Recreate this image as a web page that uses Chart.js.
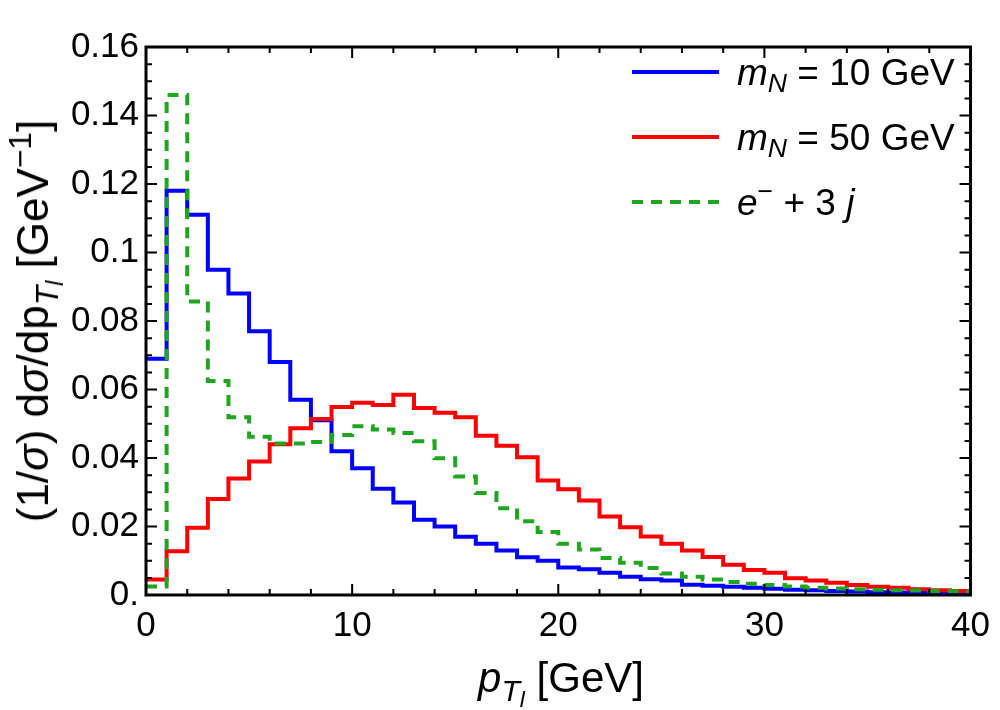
<!DOCTYPE html>
<html>
<head>
<meta charset="utf-8">
<script src="https://cdn.jsdelivr.net/npm/chart.js@4.4.1/dist/chart.umd.min.js"></script>
<style>
  html, body { margin: 0; padding: 0; background: #fff; }
  #wrap { position: relative; width: 1000px; height: 710px; font-family: "Liberation Sans", Arial, sans-serif; color: #000; }
  #chart { position: absolute; left: 0; top: 0; }
  .lbl { position: absolute; white-space: nowrap; line-height: 1; }
  .lbl sub, .lbl sup { font-size: 0.72em; line-height: 0; position: relative; vertical-align: baseline; }
  .lbl sub { top: 0.3em; }
  .lbl sup { top: -0.55em; }
  .lbl sub sub { top: 0.25em; font-size: 0.75em; }
  #ytitle { font-size: 44px; left: 33px; top: 321px; transform: translate(-50%, -50%) rotate(-90deg); }
  #xtitle { font-size: 42px; left: 561px; top: 678px; transform: translate(-50%, -50%); }
  .leg { position: absolute; left: 632px; height: 44px; display: flex; align-items: center; }
  .leg .sw { width: 87px; height: 4px; margin-right: 18px; }
  .leg .tx { font-size: 37px; line-height: 1; white-space: nowrap; }
  .leg .tx sub { font-size: 0.72em; line-height: 0; position: relative; top: 0.3em; vertical-align: baseline; }
  .leg .tx sup { font-size: 0.72em; line-height: 0; position: relative; top: -0.55em; vertical-align: baseline; }
</style>
</head>
<body>
<div id="wrap">
  <canvas id="chart" width="1000" height="710"></canvas>
  <div id="ytitle" class="lbl">(1/<i>σ</i>) d<i>σ</i>/dp<sub><i>T</i><sub><i>l</i></sub></sub> [GeV<sup>−1</sup>]</div>
  <div id="xtitle" class="lbl"><i>p</i><sub><i>T</i><sub><i>l</i></sub></sub> [GeV]</div>
  <div id="legend"></div>
</div>
<script>
  // bin left edges (GeV), each bin is 1 GeV wide
  const binStart = [0, 1, 2, 3, 4, 5, 6, 7, 8, 9, 10, 11, 12, 13, 14, 15, 16, 17, 18, 19,
    20, 21, 22, 23, 24, 25, 26, 27, 28, 29, 30, 31, 32, 33, 34, 35, 36, 37, 38, 39];
  const binEnd = 40;

  const mN10 = [0.069, 0.118, 0.111, 0.095, 0.088, 0.077, 0.068, 0.057, 0.051, 0.042,
    0.037, 0.031, 0.027, 0.022, 0.020, 0.017, 0.015, 0.013, 0.011, 0.010,
    0.008, 0.0075, 0.0065, 0.0053, 0.0046, 0.0042, 0.0030, 0.0027, 0.0024, 0.0021,
    0.0018, 0.0015, 0.0014, 0.0012, 0.0010, 0.0008, 0.0007, 0.0006, 0.0005, 0.0004];

  const mN50 = [0.0045, 0.0128, 0.0196, 0.028, 0.034, 0.039, 0.044, 0.0487, 0.0514, 0.0549,
    0.0561, 0.0555, 0.0585, 0.0546, 0.0532, 0.0519, 0.0465, 0.0436, 0.0402, 0.0334,
    0.0309, 0.0276, 0.0229, 0.0198, 0.0171, 0.0150, 0.0130, 0.0111, 0.0088, 0.0073,
    0.0065, 0.0049, 0.0042, 0.0036, 0.0029, 0.0024, 0.0021, 0.0017, 0.0014, 0.0012];

  const bkg3j = [0.0025, 0.146, 0.0857, 0.0625, 0.0519, 0.0462, 0.0442, 0.0442, 0.0447, 0.0467,
    0.0493, 0.0483, 0.0473, 0.0449, 0.0399, 0.0346, 0.0298, 0.0253, 0.0215, 0.0184,
    0.0150, 0.0133, 0.0108, 0.0094, 0.0079, 0.0063, 0.0053, 0.0045, 0.0038, 0.0033,
    0.0029, 0.0025, 0.0021, 0.0019, 0.0017, 0.0015, 0.0014, 0.0013, 0.0012, 0.0011];

  const xTickLabels = ["0", "10", "20", "30", "40"];
  const yTickLabels = ["0.", "0.02", "0.04", "0.06", "0.08", "0.1", "0.12", "0.14", "0.16"];

  const SERIES = [
    { label: "m_N = 10 GeV", html: "<i>m</i><sub><i>N</i></sub> = 10 GeV", values: mN10, color: "#0000ff", dash: [], order: 3 },
    { label: "m_N = 50 GeV", html: "<i>m</i><sub><i>N</i></sub> = 50 GeV", values: mN50, color: "#ff0000", dash: [], order: 2 },
    { label: "e- + 3 j", html: "<i>e</i><sup>−</sup> + 3 <i>j</i>", values: bkg3j, color: "#1fa51f", dash: [11, 8], order: 1 },
  ];

  // step histogram: a point at each left edge, plus the closing edge
  function histPoints(values) {
    const pts = binStart.map((x, i) => ({ x: x, y: values[i] }));
    pts.push({ x: binEnd, y: values[values.length - 1] });
    return pts;
  }

  const frameTicks = {
    id: "frameTicks",
    afterDraw(chart) {
      const { ctx, chartArea: a, scales } = chart;
      const xs = scales.x, ys = scales.y;
      ctx.save();
      ctx.strokeStyle = "#000";
      ctx.lineWidth = 2;
      ctx.beginPath();
      for (let v = 0; v <= 40; v += 2) {
        const px = xs.getPixelForValue(v);
        const len = v % 10 === 0 ? 11 : 6;
        ctx.moveTo(px, a.bottom); ctx.lineTo(px, a.bottom - len);
        ctx.moveTo(px, a.top); ctx.lineTo(px, a.top + len);
      }
      for (let k = 0; k <= 32; k++) {
        const py = ys.getPixelForValue(k * 0.005);
        const len = k % 4 === 0 ? 11 : 6;
        ctx.moveTo(a.left, py); ctx.lineTo(a.left + len, py);
        ctx.moveTo(a.right, py); ctx.lineTo(a.right - len, py);
      }
      ctx.stroke();
      ctx.lineWidth = 3;
      ctx.strokeRect(a.left, a.top, a.right - a.left, a.bottom - a.top);
      ctx.restore();
    },
  };

  const tickFont = { family: "'Liberation Sans', Arial, sans-serif", size: 35 };

  new Chart(document.getElementById("chart"), {
    type: "line",
    data: {
      datasets: SERIES.map((s) => ({
        label: s.label,
        data: histPoints(s.values),
        borderColor: s.color,
        backgroundColor: s.color,
        borderWidth: 4,
        borderDash: s.dash,
        stepped: "before",
        pointRadius: 0,
        fill: false,
        order: s.order,
      })),
    },
    options: {
      responsive: false,
      animation: false,
      devicePixelRatio: 1,
      layout: { padding: { top: 47, right: 22, left: 0, bottom: 0 } },
      plugins: { legend: { display: false }, tooltip: { enabled: false } },
      scales: {
        x: {
          type: "linear",
          min: 0,
          max: 40,
          grid: { display: false, drawTicks: false },
          border: { display: false },
          ticks: {
            stepSize: 10,
            padding: 10,
            color: "#000",
            font: tickFont,
            maxRotation: 0,
            callback: (v, i) => xTickLabels[i],
          },
          afterFit(scale) { scale.height = 115; },
        },
        y: {
          min: 0,
          max: 0.16,
          grid: { display: false, drawTicks: false },
          border: { display: false },
          ticks: {
            stepSize: 0.02,
            padding: 7,
            color: "#000",
            font: tickFont,
            autoSkip: false,
            callback: (v, i) => yTickLabels[i],
          },
          afterFit(scale) { scale.width = 146; },
        },
      },
    },
    plugins: [frameTicks],
  });

  // legend with styled text
  const legend = document.getElementById("legend");
  SERIES.forEach((s, i) => {
    const row = document.createElement("div");
    row.className = "leg";
    row.style.top = (72 + i * 65 - 22) + "px";
    const sw = document.createElement("div");
    sw.className = "sw";
    sw.style.background = s.dash.length
      ? `repeating-linear-gradient(to right, ${s.color} 0 ${s.dash[0]}px, transparent ${s.dash[0]}px ${s.dash[0] + s.dash[1]}px)`
      : s.color;
    const tx = document.createElement("div");
    tx.className = "tx";
    tx.innerHTML = s.html;
    row.appendChild(sw);
    row.appendChild(tx);
    legend.appendChild(row);
  });
</script>
</body>
</html>
